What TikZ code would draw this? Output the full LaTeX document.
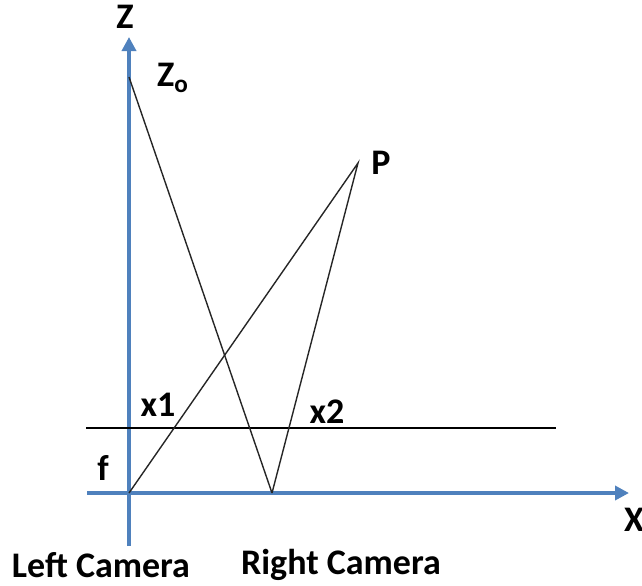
\documentclass[tikz,border=0pt]{standalone}
\usepackage{fontspec}
\setmainfont{Carlito}
\usepackage{xcolor}
\usetikzlibrary{arrows.meta}
\definecolor{axisblue}{RGB}{79,129,189}
\tikzset{
  axisline/.style={
    draw=axisblue,
    line width=2pt,
    -{Triangle[length=7pt,width=7pt]},
  },
  ray/.style={
    draw=black!85,
    line width=0.7pt,
  },
  planeline/.style={
    draw=black,
    line width=0.6pt,
  },
  lbl/.style={
    font=\fontsize{18}{21}\selectfont\bfseries,
    inner sep=1pt,
  },
}
\begin{document}
\begin{tikzpicture}[x=0.5pt, y=-0.5pt]
  \useasboundingbox (0,0) rectangle (642,585);

  % Points of the setup
  \coordinate (lcam) at (129,493);
  \coordinate (rcam) at (272,493);
  \coordinate (zo) at (129,77);
  \coordinate (p) at (358,163);

  % Axes
  \coordinate (zbot) at (129,546);
  \coordinate (ztop) at (129,37);
  \coordinate (xleft) at (87,493);
  \coordinate (xright) at (629,493);
  \draw[axisline] (zbot) -- (ztop);
  \draw[axisline] (xleft) -- (xright);

  % Image plane
  \coordinate (plleft) at (86,428);
  \coordinate (plright) at (556,428);
  \draw[planeline] (plleft) -- (plright);

  % Rays
  \draw[ray] (zo) -- (rcam);
  \draw[ray] (lcam) -- (p) -- (rcam);

  % Labels
  \node[lbl] (zlab) at (125,17) {Z};
  \node[lbl] (xlab) at (634,520) {X};
  \node[lbl] (zolab) at (173,78) {Z\textsubscript{o}};
  \node[lbl] (plab) at (381,163) {P};
  \node[lbl] (x1lab) at (158,405) {x1};
  \node[lbl] (x2lab) at (327,412) {x2};
  \node[lbl] (flab) at (103,468) {f};
  \node[lbl] (leftlab) at (101,565) {Left Camera};
  \node[lbl] (rightlab) at (341,565) {Right Camera};
\end{tikzpicture}
\end{document}
